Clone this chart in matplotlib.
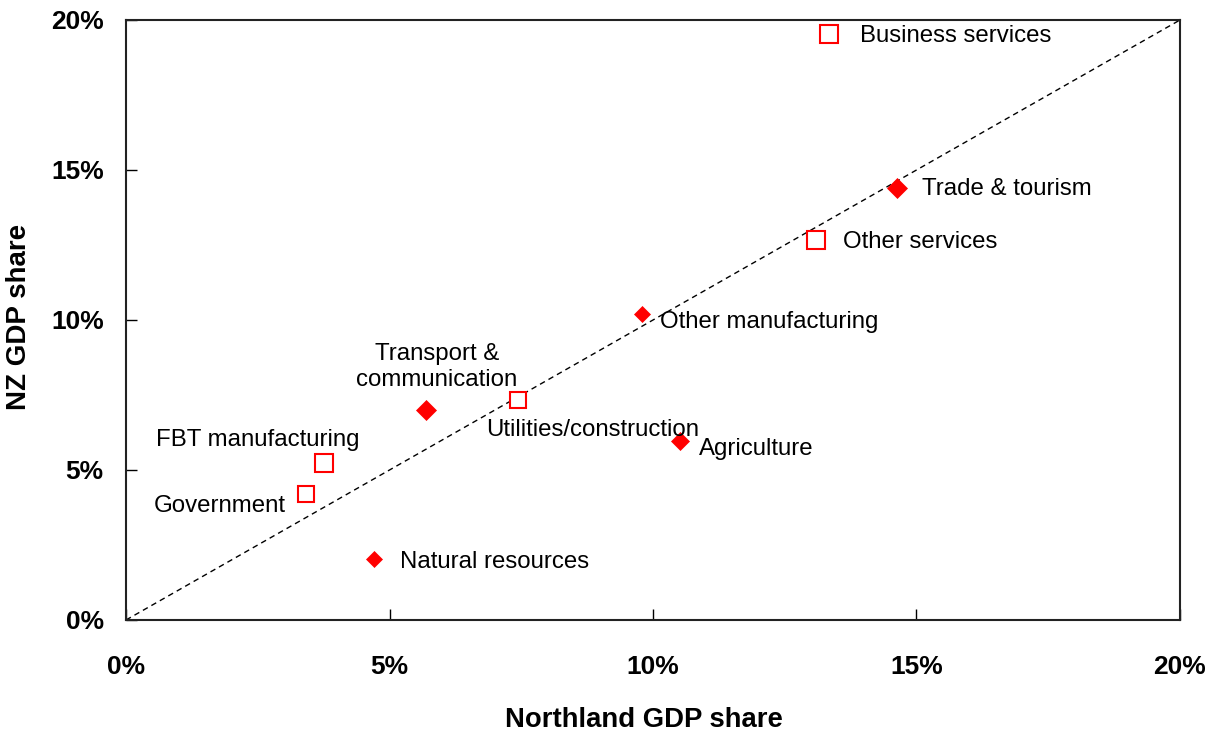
import matplotlib
matplotlib.use("Agg")
import matplotlib.pyplot as plt
from matplotlib.ticker import FuncFormatter

plt.rcParams['font.family'] = ['Liberation Sans', 'DejaVu Sans']

# sectors: Northland share (x) vs NZ share (y), in %
sectors = ["Business services", "Trade & tourism", "Other services",
           "Other manufacturing", "Utilities/construction",
           "Transport &\ncommunication", "Agriculture", "FBT manufacturing",
           "Government", "Natural resources"]
northland = [13.34, 14.63, 13.09, 9.79, 7.44, 5.69, 10.51, 3.76, 3.42, 4.71]
nz = [19.53, 14.40, 12.67, 10.20, 7.33, 7.00, 5.97, 5.23, 4.20, 2.03]
kind = ["service", "goods", "service", "goods", "service",
        "goods", "goods", "service", "service", "goods"]

# label placement (pixel offsets from the marker) and alignment
offsets = [(31, -2), (25, -1), (27, -2), (18, -8), (75, -30),
           (11, 43), (19, -8), (-66, 23), (-21, -12), (26, -3)]
aligns = ["left", "left", "left", "left", "center",
          "center", "left", "center", "right", "left"]
msizes = [13.5, 10.2, 13, 8.5, 11.5, 10.2, 8.8, 13.5, 11.5, 8.3]

fig = plt.figure(figsize=(12.2, 7.38), dpi=100)
ax = fig.add_axes([0.1033, 0.1599, 0.8639, 0.813])

ax.plot([0, 20], [0, 20], color="black", lw=1, dashes=(4, 3), zorder=1)

for i in range(len(sectors)):
    if kind[i] == "service":
        ax.plot(northland[i], nz[i], marker="s", ms=msizes[i], mfc="white",
                mec="red", mew=1.5, ls="none", zorder=3)
    else:
        ax.plot(northland[i], nz[i], marker="D", ms=msizes[i], mfc="red",
                mec="red", mew=0.5, ls="none", zorder=3)
    ax.annotate(sectors[i], (northland[i], nz[i]), xytext=offsets[i],
                textcoords="offset pixels", ha=aligns[i], va="center",
                multialignment="center", fontsize=17.3, zorder=4)

ax.set_xlim(0, 20)
ax.set_ylim(0, 20)
ax.set_xticks([0, 5, 10, 15, 20])
ax.set_yticks([0, 5, 10, 15, 20])
pct = FuncFormatter(lambda v, p: "%d%%" % v)
ax.xaxis.set_major_formatter(pct)
ax.yaxis.set_major_formatter(pct)
ax.tick_params(axis="x", direction="in", length=8, width=1, pad=25,
               labelsize=19)
ax.tick_params(axis="y", direction="in", length=8, width=1, pad=16,
               labelsize=19)
for lab in ax.get_xticklabels() + ax.get_yticklabels():
    lab.set_fontweight("bold")
for s in ax.spines.values():
    s.set_linewidth(1.5)
    s.set_color("#222222")

ax.set_xlabel("Northland GDP share", fontsize=19.8, fontweight="bold")
ax.set_ylabel("NZ GDP share", fontsize=20, fontweight="bold")
ax.xaxis.set_label_coords(0.4915, -0.145)
ax.yaxis.set_label_coords(-0.089, 0.505)

fig.savefig("out.png", dpi=100)
